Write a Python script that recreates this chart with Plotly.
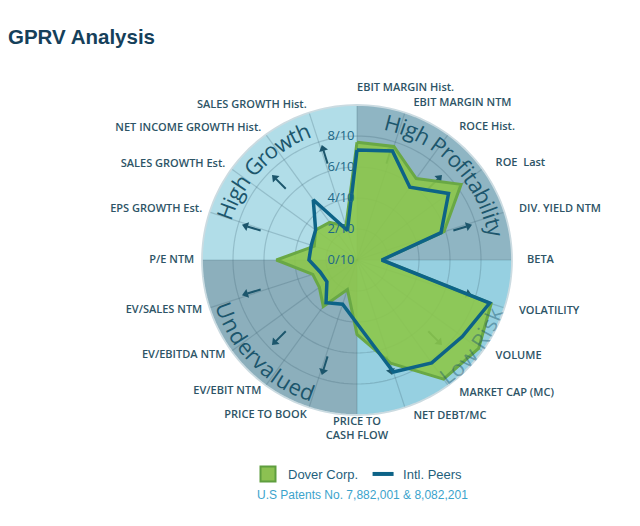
import math
import plotly.graph_objects as go

# chart data (clockwise from the top)
categories = ["EBIT MARGIN Hist.", "EBIT MARGIN NTM", "ROCE Hist.", "ROE  Last", "DIV. YIELD NTM",
              "BETA", "VOLATILITY", "VOLUME", "MARKET CAP (MC)", "NET DEBT/MC",
              "PRICE TO<br>CASH FLOW", "PRICE TO BOOK", "EV/EBIT NTM", "EV/EBITDA NTM", "EV/SALES NTM",
              "P/E NTM", "EPS GROWTH Est.", "SALES GROWTH Est.", "NET INCOME GROWTH Hist.", "SALES GROWTH Hist."]
dover = [7.6, 7.7, 6.5, 8.3, 5.9, 1.6, 9.1, 9.7, 9.5, 7.0,
         4.8, 2.0, 3.7, 3.0, 3.0, 5.2, 2.9, 3.3, 3.0, 2.3]
peers = [7.1, 7.4, 5.8, 7.3, 5.7, 1.6, 9.0, 8.4, 8.2, 7.6,
         4.1, 3.0, 3.4, 2.4, 2.5, 3.1, 3.1, 3.3, 4.8, 2.0]
ring_values = [0, 2, 4, 6, 8]
ring_labels = ["0/10", "2/10", "4/10", "6/10", "8/10"]
quadrants = ["High Profitability", "Low Risk", "Undervalued", "High Growth"]
quadrant_colors = ["#8fb5c3", "#96d0e1", "#8cafbc", "#b1dde8"]

W, H = 640, 526
# the page body adds an 8px margin, so figure coords are the picture's minus 8
CX, CY, R = 349, 252, 155          # centre and radius of the score circle (score 10)
RMAX = 11.5                        # radial range extends past 10 so the labels fit inside
RP = R * RMAX / 10
TEXT = "#2d5466"
DARK = "#1c566c"

n = len(categories)
step = 360 / n
theta = [i * step for i in range(n)]

fig = go.Figure()

# quadrant backgrounds
fig.add_trace(go.Barpolar(r=[10] * 4, theta=[45, 135, 225, 315], width=[90] * 4,
                          marker=dict(color=quadrant_colors, line=dict(width=0)),
                          showlegend=False, hoverinfo="skip"))

# grid: rings and spokes
grid_color = "rgba(60,95,110,0.25)"
circle_t = list(range(0, 362, 2))
for rv in ring_values[1:]:
    fig.add_trace(go.Scatterpolar(r=[rv] * len(circle_t), theta=circle_t, mode="lines",
                                  line=dict(color=grid_color, width=1.2),
                                  showlegend=False, hoverinfo="skip"))
sr, st = [], []
for t in theta:
    sr += [0, 10, None]
    st += [t, t, None]
fig.add_trace(go.Scatterpolar(r=sr, theta=st, mode="lines", line=dict(color=grid_color, width=1.2),
                              showlegend=False, hoverinfo="skip"))
# outer rim
fig.add_trace(go.Scatterpolar(r=[10] * len(circle_t), theta=circle_t, mode="lines",
                              line=dict(color="#cbdbe1", width=1.8),
                              showlegend=False, hoverinfo="skip"))

# small outward arrows in each quadrant
ar, at, tips = [], [], []
for q in range(4):
    for off in (17, 45, 73):
        a = q * 90 + off
        ar += [6.5, 7.4, None]
        at += [a, a, None]
        tips.append(a)
fig.add_trace(go.Scatterpolar(r=ar, theta=at, mode="lines", line=dict(color=DARK, width=2),
                              showlegend=False, hoverinfo="skip"))
fig.add_trace(go.Scatterpolar(r=[7.5] * len(tips), theta=tips, mode="markers",
                              marker=dict(symbol="triangle-up", size=8, color=DARK, angle=tips),
                              showlegend=False, hoverinfo="skip"))

# series
fig.add_trace(go.Scatterpolar(r=dover + dover[:1], theta=theta + theta[:1], name="Dover Corp.",
                              mode="lines", fill="toself", fillcolor="rgba(140,198,74,0.9)",
                              line=dict(color="#69a845", width=3), showlegend=False))
fig.add_trace(go.Scatterpolar(r=peers + peers[:1], theta=theta + theta[:1], name="Intl. Peers",
                              mode="lines", line=dict(color="#0d6387", width=3.5), showlegend=False))
# legend entries
fig.add_trace(go.Scatterpolar(r=[None], theta=[None], name="Dover Corp.", mode="markers",
                              marker=dict(symbol="square", size=15, color="#8cc152",
                                          line=dict(color="#5f9e3e", width=2))))
fig.add_trace(go.Scatterpolar(r=[None], theta=[None], name="Intl. Peers", mode="markers",
                              marker=dict(symbol="line-ew", size=15,
                                          line=dict(color="#0d6387", width=4))))

# category labels around the circle
label_r, label_pos, label_text = [], [], []
for t, c in zip(theta, categories):
    if t == 0:
        label_r.append(11.1)
        label_pos.append("middle right")
        label_text.append(c)
    elif t == 180:
        label_r.append(10.1)
        label_pos.append("bottom center")
        label_text.append(c)
    elif t < 180:
        label_r.append(10.6)
        label_pos.append("middle right")
        label_text.append("\u00a0\u00a0" + c)
    else:
        label_r.append(10.5)
        label_pos.append("middle left")
        label_text.append(c)
fig.add_trace(go.Scatterpolar(r=label_r, theta=theta, mode="text", text=label_text,
                              textposition=label_pos, cliponaxis=False,
                              textfont=dict(family="Open Sans", size=11, color=TEXT, weight=600),
                              showlegend=False, hoverinfo="skip"))

# curved quadrant captions
CHAR_W = {"H": .74, "i": .26, "g": .55, "h": .61, " ": .26, "G": .70, "r": .41, "o": .60, "w": .80,
          "t": .35, "P": .60, "f": .34, "a": .56, "b": .61, "l": .26, "y": .50, "U": .73, "n": .61,
          "d": .61, "e": .56, "v": .50, "u": .61, "L": .52, "R": .62, "s": .48, "k": .52}
annotations = []


def arc_text(text, center, radius, size, clockwise, color):
    widths = [CHAR_W.get(c, 0.56) * size for c in text]
    pos = -sum(widths) / 2
    for c, w in zip(text, widths):
        mid = pos + w / 2
        pos += w
        if c == " ":
            continue
        ang = center + (1 if clockwise else -1) * math.degrees(mid / radius)
        x = CX + radius * math.sin(math.radians(ang))
        y = CY - radius * math.cos(math.radians(ang))
        rot = ang if clockwise else ang - 180
        rot = (rot + 180) % 360 - 180
        annotations.append(dict(text=c, x=x / W, y=1 - y / H, xref="paper", yref="paper",
                                showarrow=False, textangle=rot, xanchor="center", yanchor="middle",
                                font=dict(family="Open Sans", size=size, color=color)))


arc_text(quadrants[0], 46, 142, 22, True, DARK)
arc_text(quadrants[1], 127, 146, 22, False, "rgba(28,86,108,0.45)")
arc_text(quadrants[2], 225, 140, 22, False, DARK)
arc_text(quadrants[3], 313.5, 140, 22, True, DARK)

annotations.append(dict(text="GPRV Analysis", x=-2 / W, y=1 - 29 / H, xref="paper", yref="paper",
                        xanchor="left", yanchor="middle", showarrow=False,
                        font=dict(family="Liberation Sans", size=20.5, color="#15405a", weight="bold")))
annotations.append(dict(text="U.S Patents No. 7,882,001 & 8,082,201", x=354 / W, y=1 - 487 / H,
                        xref="paper", yref="paper", xanchor="center", yanchor="middle", showarrow=False,
                        font=dict(family="Liberation Sans", size=12, color="#3ba3cc")))

fig.update_layout(
    width=W, height=H,
    margin=dict(l=0, r=0, t=0, b=0),
    paper_bgcolor="white",
    showlegend=True,
    legend=dict(orientation="h", x=350 / W, xanchor="center", y=1 - 466 / H, yanchor="middle",
                font=dict(family="Liberation Sans", size=13, color="#1f5f7c")),
    annotations=annotations,
    polar=dict(
        domain=dict(x=[(CX - RP) / W, (CX + RP) / W], y=[1 - (CY + RP) / H, 1 - (CY - RP) / H]),
        bgcolor="rgba(0,0,0,0)",
        bargap=0,
        angularaxis=dict(direction="clockwise", rotation=90, tickmode="array", tickvals=theta,
                         showticklabels=False, showgrid=False, showline=False, ticks=""),
        radialaxis=dict(range=[0, RMAX], angle=90, side="counterclockwise", tickmode="array",
                        tickvals=ring_values, ticktext=ring_labels, showgrid=False, showline=False,
                        ticks="", tickangle=90,
                        tickfont=dict(family="Open Sans", size=13, color="#1d6887")),
    ),
)

fig.write_html("out.html")
